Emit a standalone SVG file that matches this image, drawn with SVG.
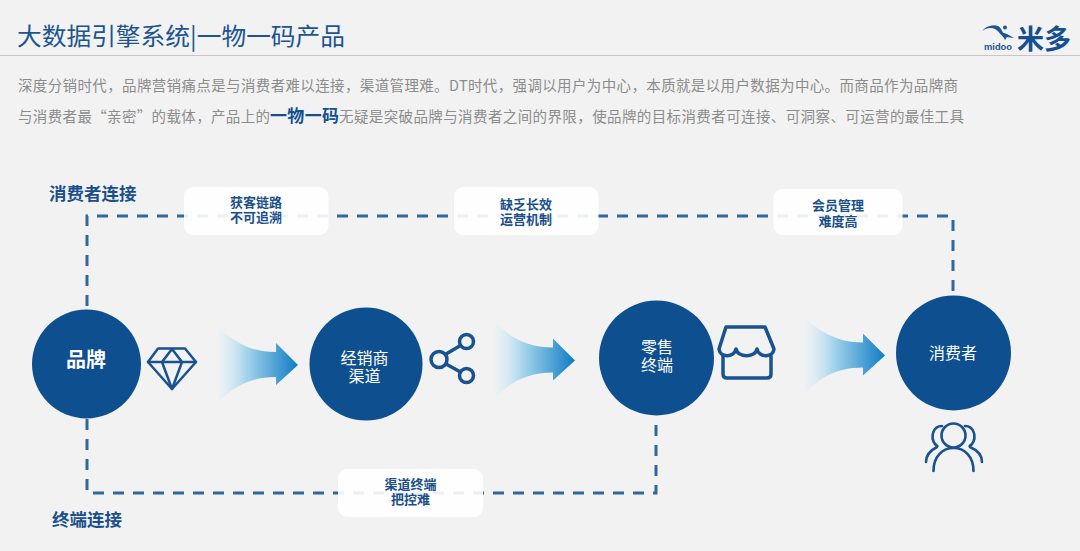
<svg xmlns="http://www.w3.org/2000/svg" width="1080" height="551" viewBox="0 0 1080 551">
<defs>
<linearGradient id="arrowFill" x1="0" y1="0" x2="1" y2="0">
<stop offset="0" stop-color="#d9edf6" stop-opacity="0.2"/>
<stop offset="0.35" stop-color="#a5d5ec"/>
<stop offset="1" stop-color="#0f7cc4"/>
</linearGradient>
<path id="flow" d="M0 0C15 12 30 24 58 24L58 15L80 37L58 57L58 49C30 49 15 60 0 74Z" fill="url(#arrowFill)"/>
</defs>
<style>
text{font-family:"Noto Sans CJK SC","Liberation Sans",sans-serif}
.body{font-size:14.500px;fill:#8c8c8c}
.circle{fill:#0e4f90}
.ct{fill:#fff;font-size:16px;text-anchor:middle}
.pill{fill:#fff;fill-opacity:.9}
.pt{fill:#1a4f8c;font-size:13px;font-weight:700;text-anchor:middle}
.head{fill:#1a4f8c;font-size:17.500px;font-weight:700}
.dash{fill:none;stroke:#2f679e;stroke-width:3;stroke-dasharray:11 9}
.icon{fill:none;stroke:#185290;stroke-width:3;stroke-linecap:round;stroke-linejoin:round}
</style>
<rect width="1080" height="551" fill="#f2f2f2"/>
<g id="header">
<text x="17" y="45" font-size="24" fill="#1c5590" textLength="328" lengthAdjust="spacingAndGlyphs">大数据引擎系统|一物一码产品</text>
<line x1="0" y1="55.500" x2="1080" y2="55.500" stroke="#c6c6c6" stroke-width="1"/>
</g>
<g id="logo">
<path d="M982 31C986 26 993 24 998 26C1002 28 1003 34 1006 39C1001 36 999 31 995 29C991 27 986 28 982 31Z" fill="#1c5590"/>
<circle cx="1005" cy="27.500" r="2" fill="#1c5590"/>
<path d="M1001 32L1007 34L1014 38C1011 38 1009 37 1007 37L1005 40Z" fill="#1c5590"/>
<text x="984" y="50" font-size="9" fill="#1c5590" style="font-family:'Liberation Sans',sans-serif" font-weight="700" textLength="28" lengthAdjust="spacingAndGlyphs">midoo</text>
<text x="1017" y="49" font-size="27" font-weight="700" fill="#14508f">米多</text>
</g>
<g id="intro">
<text class="body" x="18" y="91" textLength="940" lengthAdjust="spacing">深度分销时代，品牌营销痛点是与消费者难以连接，渠道管理难。DT时代，强调以用户为中心，本质就是以用户数据为中心。而商品作为品牌商</text>
<text class="body" x="18" y="122" textLength="252" lengthAdjust="spacing">与消费者最“亲密”的载体，产品上的</text>
<text x="270" y="122" font-size="17" font-weight="700" fill="#14508f" textLength="69">一物一码</text>
<text class="body" x="339" y="122" textLength="625" lengthAdjust="spacing">无疑是突破品牌与消费者之间的界限，使品牌的目标消费者可连接、可洞察、可运营的最佳工具</text>
</g>
<g id="connectors">
<path class="dash" d="M87 306V216H953V296"/>
<path class="dash" d="M87 419V493H656V416"/>
</g>
<g id="label-consumer"><text class="head" x="49" y="200">消费者连接</text></g>
<g id="label-terminal"><text class="head" x="52" y="526">终端连接</text></g>
<g id="pill-1"><rect class="pill" x="184" y="187" width="144.500" height="48" rx="9"/><text class="pt" y="207"><tspan x="256">获客链路</tspan><tspan x="256" dy="15">不可追溯</tspan></text></g>
<g id="pill-2"><rect class="pill" x="454" y="187" width="144.500" height="48" rx="9"/><text class="pt" y="209"><tspan x="526">缺乏长效</tspan><tspan x="526" dy="15">运营机制</tspan></text></g>
<g id="pill-3"><rect class="pill" x="773.500" y="189" width="129" height="46" rx="9"/><text class="pt" y="210"><tspan x="838">会员管理</tspan><tspan x="838" dy="15.500">难度高</tspan></text></g>
<g id="pill-4"><rect class="pill" x="338" y="469" width="145" height="48" rx="9"/><text class="pt" y="489"><tspan x="410.500">渠道终端</tspan><tspan x="410.500" dy="14.500">把控难</tspan></text></g>
<g id="node-brand"><circle class="circle" cx="86.500" cy="364" r="54.500"/><text class="ct" x="86" y="367" font-weight="700" style="font-size:20px">品牌</text></g>
<g id="node-dealer"><circle class="circle" cx="366" cy="364" r="56.500"/><text class="ct" y="364"><tspan x="364.500">经销商</tspan><tspan x="364.500" dy="18">渠道</tspan></text></g>
<g id="node-retail"><circle class="circle" cx="656.500" cy="358" r="57.500"/><text class="ct" y="353"><tspan x="657">零售</tspan><tspan x="657" dy="18">终端</tspan></text></g>
<g id="node-consumer"><circle class="circle" cx="953.500" cy="353" r="57.500"/><text class="ct" x="953" y="359">消费者</text></g>
<g id="flows">
<use href="#flow" x="218" y="328"/>
<use href="#flow" x="495" y="323.500"/>
<use href="#flow" x="805" y="318.500"/>
</g>
<g id="icon-diamond" class="icon" style="stroke-width:2.500">
<path d="M158 348.500H185L196 362L172 389L148 362Z"/>
<path d="M148 362H196M162 362L172 349L182 362L172 389L162 362Z"/>
</g>
<g id="icon-share" class="icon" style="stroke-width:3.500">
<circle cx="439" cy="359.500" r="8"/><circle cx="466.500" cy="341.500" r="7"/><circle cx="466.500" cy="375.500" r="7"/>
<path d="M446 354L460.500 345.500M446 364L460.500 372"/>
</g>
<g id="icon-store" class="icon" style="stroke-width:3.500">
<path d="M726 327H765L774 349C773 358 759 358 757 349C755 358 738 358 736 349C734 358 720 358 719 349Z"/>
<path d="M723 356V374Q723 378 727 378H767Q771 378 771 374V356"/>
</g>
<g id="icon-people" class="icon" style="stroke-width:2.600">
<circle cx="953.500" cy="435.500" r="12"/>
<path d="M933.500 471C933.500 456 943 448 953.500 448C964 448 973.500 456 973.500 471"/>
<path d="M942 426C933 426 930 437 935 444C937 446 938 446 937 447C931 450 926 454 926 462"/>
<path d="M965 426C974 426 977 437 972 444C970 446 969 446 970 447C977 450 982 454 982 462"/>
</g>
</svg>
